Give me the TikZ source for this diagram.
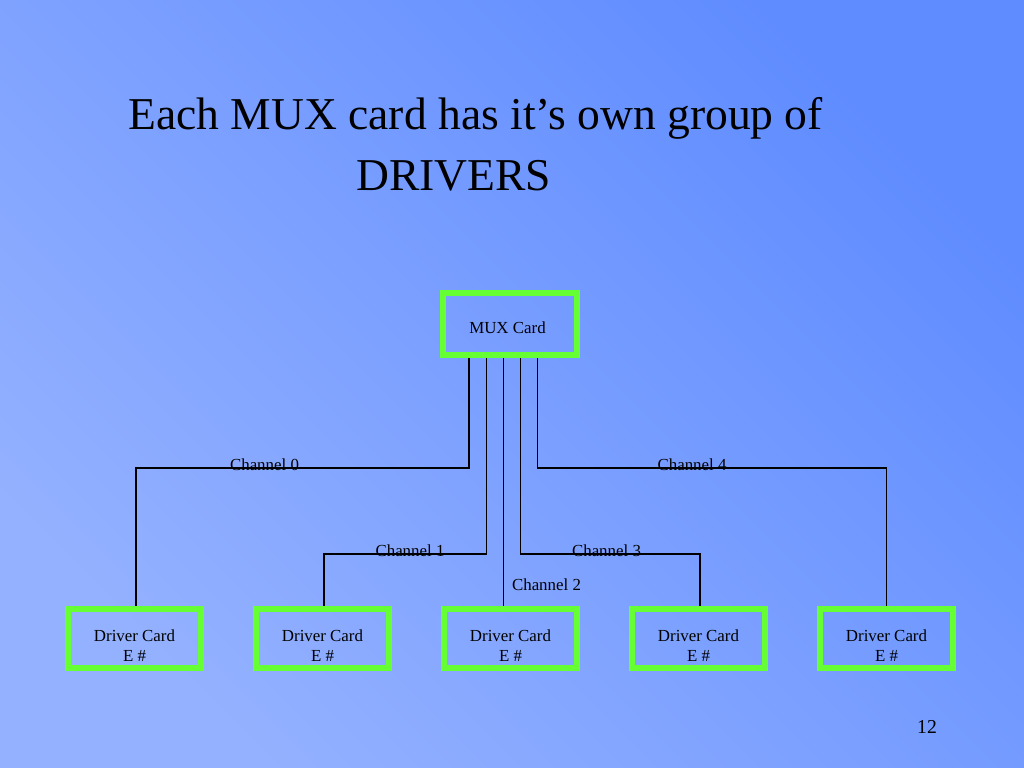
\documentclass[tikz,border=0pt]{standalone}
\usepackage{fontspec}
\setmainfont{Liberation Serif}
\usetikzlibrary{calc}
\usetikzlibrary{positioning}
\definecolor{limegreen}{RGB}{102,255,51}
\definecolor{slidetop}{RGB}{95,140,255}
\definecolor{slidebottom}{RGB}{148,177,255}

\begin{document}
\begin{tikzpicture}[x=0.025cm,y=-0.025cm, wire/.style={black,line width=1.1pt}, card/.style={draw=limegreen,line width=4.25pt,minimum width=3.325cm,minimum height=1.475cm,inner sep=0pt}, cardtext/.style={font=\fontsize{12}{14.2}\selectfont,align=center,inner sep=0pt}, chan/.style={font=\fontsize{12}{14}\selectfont,inner sep=0pt,anchor=base}]

\useasboundingbox (0,0) rectangle (1024,768);
\shade[top color=slidetop,bottom color=slidebottom,shading angle=-45] (0,0) rectangle (1024,768);

% title
\node[anchor=base west,inner sep=0pt,font=\fontsize{32.4}{38}\selectfont] (title1) at (128,130) {Each MUX card has it’s own group of};
\node[anchor=base west,inner sep=0pt,font=\fontsize{32.4}{38}\selectfont] (title2) at (356,190) {DRIVERS};

% cards
\node[card,minimum width=3.35cm,minimum height=1.54cm] (mux) at (510,324) {};
\node[cardtext] (muxtext) at (507.5,328) {MUX Card};

\node[card] (drv0) at (134.5,638.5) {};
\node[card] (drv1) at (322.5,638.5) {};
\node[card] (drv2) at (510.5,638.5) {};
\node[card] (drv3) at (698.5,638.5) {};
\node[card] (drv4) at (886.5,638.5) {};

\node[cardtext] (drv0text) at (134.5,645.5) {Driver Card\\E \#};
\node[cardtext] (drv1text) at (322.5,645.5) {Driver Card\\E \#};
\node[cardtext] (drv2text) at (510.5,645.5) {Driver Card\\E \#};
\node[cardtext] (drv3text) at (698.5,645.5) {Driver Card\\E \#};
\node[cardtext] (drv4text) at (886.5,645.5) {Driver Card\\E \#};

% channels
\coordinate (row0) at (0,468);
\coordinate (row1) at (0,554);

\draw[wire] ($(mux.south)+(-41,0)$) |- ($(drv0.north |- row0)+(1.5,0)$) -- ($(drv0.north)+(1.5,0)$);
\draw[wire] ($(mux.south)+(-23.5,0)$) |- ($(drv1.north |- row1)+(1.5,0)$) -- ($(drv1.north)+(1.5,0)$);
\draw[wire] ($(mux.south)+(-6.5,0)$) coordinate (tap2) -- (tap2 |- drv2.north);
\draw[wire] ($(mux.south)+(10.5,0)$) |- ($(drv3.north |- row1)+(1.5,0)$) -- ($(drv3.north)+(1.5,0)$);
\draw[wire] ($(mux.south)+(27.5,0)$) |- (drv4.north |- row0) -- (drv4.north);

\node[chan] (ch0) at (264.5,470) {Channel 0};
\node[chan] (ch1) at (410,556) {Channel 1};
\node[chan] (ch2) at (546.5,590) {Channel 2};
\node[chan] (ch3) at (606.5,556) {Channel 3};
\node[chan] (ch4) at (692,470) {Channel 4};

\node[anchor=base,inner sep=0pt,font=\fontsize{14}{16}\selectfont] (pagenum) at (927,733) {12};
\end{tikzpicture}
\end{document}
